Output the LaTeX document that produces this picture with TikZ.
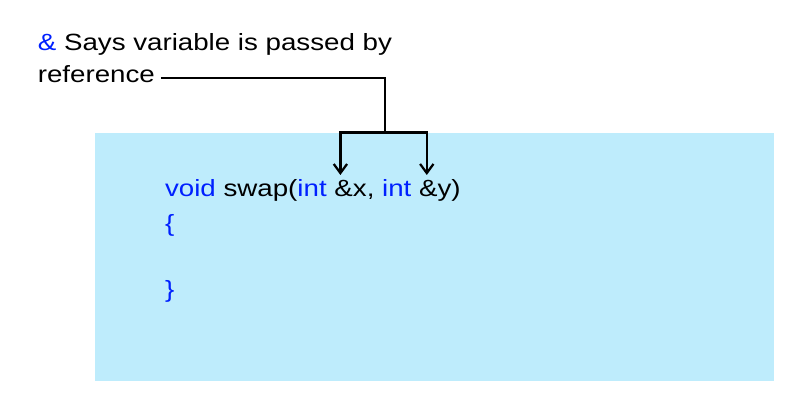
\documentclass[tikz,border=0pt]{standalone}
\usepackage{fontspec}
\setmainfont{Liberation Sans}
\usetikzlibrary{arrows.meta}
\definecolor{CodeBlue}{RGB}{0, 32, 255}
\definecolor{PanelCyan}{RGB}{190, 236, 252}
\newcommand{\kw}[1]{\textcolor{CodeBlue}{#1}}

\begin{document}
\begin{tikzpicture}[
    txt/.style={font=\fontsize{16.7}{20}\selectfont, xscale=1.18, anchor=base west},
    link/.style={line width=1.6pt},
    pointer/.style={link, -{Straight Barb[length=6.5pt, width=9.5pt, line width=1.6pt]}}
  ]
  \useasboundingbox (0,0) rectangle (20.25,10.275);

  % Code panel
  \fill[PanelCyan] (2.375,0.75) rectangle (19.35,6.95);

  % Note text
  \node[txt] (says) at (0.8, 9.02) {\kw{\&} Says variable is passed by};
  \node[txt] (ref) at (0.8, 8.21) {reference};

  % Code lines
  \node[txt] (sig) at (3.98, 5.35) {\kw{void} swap(\kw{int} \&x, \kw{int} \&y)};
  \node[txt] (lbrace) at (3.98, 4.475) {\kw{\{}};
  \node[txt] (rbrace) at (3.98, 2.825) {\kw{\}}};

  % Connector to the reference parameters
  \coordinate (corner) at (9.625, 8.33);
  \coordinate (split) at (9.625, 6.96);
  \coordinate (refx) at (8.51, 5.9);
  \coordinate (refy) at (10.67, 5.9);
  \draw[link] (ref.east |- corner) -- (corner) -- (split);
  \draw[pointer] (split) -| (refx);
  \draw[pointer] (split) -| (refy);
\end{tikzpicture}
\end{document}
